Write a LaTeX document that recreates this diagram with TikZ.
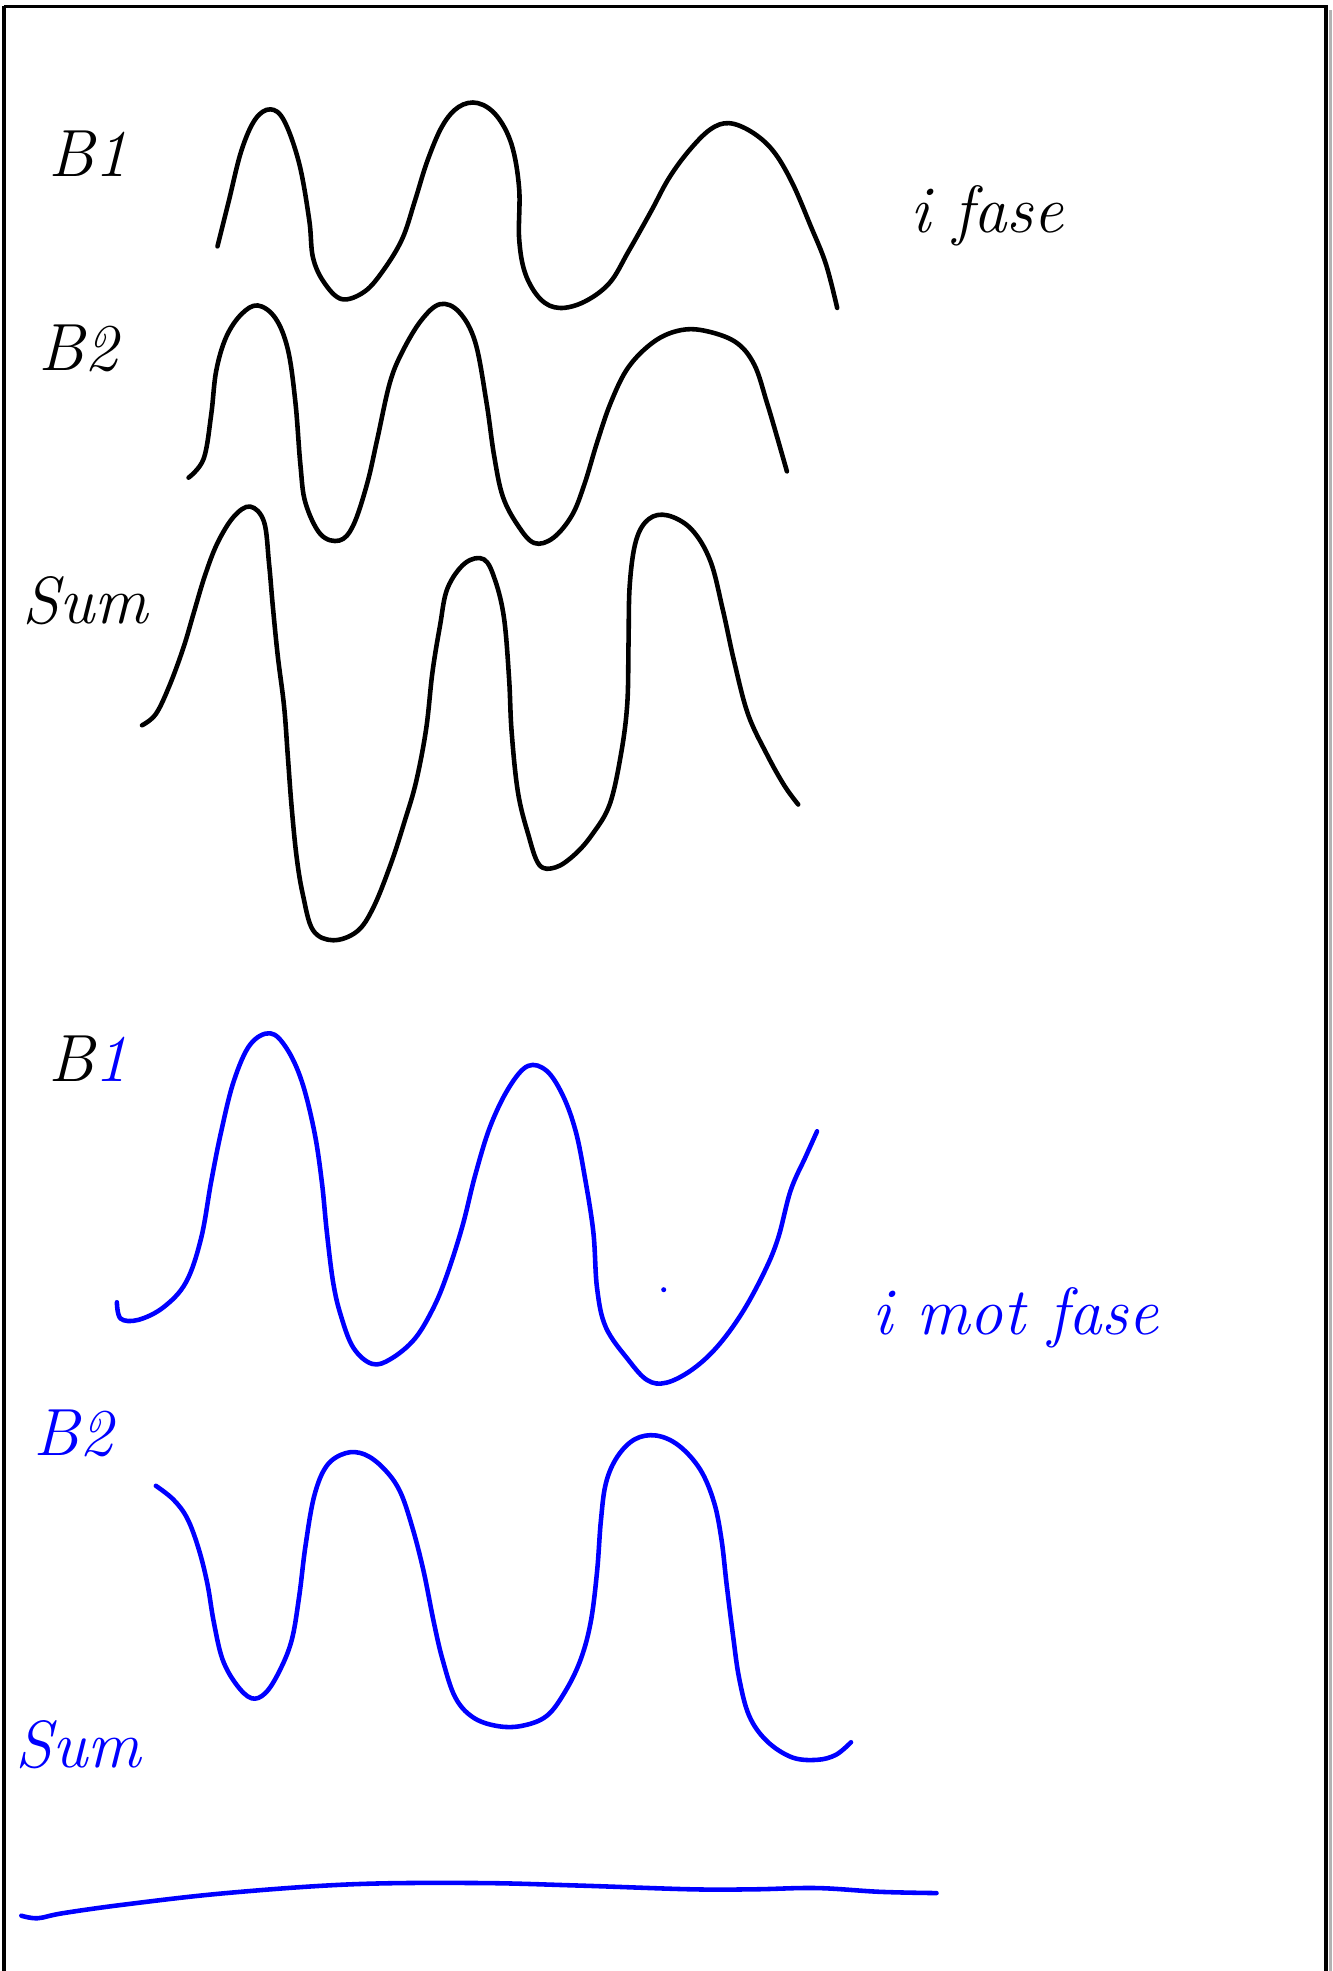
\documentclass[tikz,border=0pt]{standalone}
\usepackage{xcolor}
\usepackage{tikz}
\usetikzlibrary{positioning}

\definecolor{penblue}{RGB}{0,0,255}

\begin{document}
\begin{tikzpicture}[
    x=0.012566cm, y=-0.012566cm,
    wave/.style={line width=1.3pt, line join=round, line cap=round},
    lbl/.style={font=\itshape\fontsize{19}{21}\selectfont, inner sep=0pt},
    frame/.style={draw=black, line width=1pt}
]

\useasboundingbox (0,0) rectangle (1060,1568);

% page frame with shadow
\fill[gray!60] (1057,8) rectangle (1060,1568);
\draw[frame] (3,5) -- (1055,5) -- (1055,1568);
\draw[frame] (3,5) -- (3,1568);

% labels, in fase
\node[lbl] (b1top) at (70,122) {B1};
\node[lbl] (b2top) at (62,277) {B2};
\node[lbl] (sumtop) at (68,478) {Sum};
\node[lbl] (ifase) at (785,172) {i fase};

% labels, i mot fase
\node[lbl] (b1bot) at (70,842) {B\textcolor{penblue}{1}};
\node[lbl, penblue] (b2bot) at (58,1140) {B2};
\node[lbl, penblue] (sumbot) at (62,1388) {Sum};
\node[lbl, penblue] (imotfase) at (808,1048) {i mot fase};

% black waves
\draw[wave] plot[smooth, tension=0.6] coordinates {
  (173,196) (182,160) (192,120) (203,95) (215,87) (226,96) (238,130) (246,175)
  (249,205) (258,225) (272,238) (290,232) (305,215) (320,190) (330,160)
  (340,128) (352,100) (365,85) (380,82) (395,92) (407,115) (413,150)
  (413,190) (418,218) (430,238) (445,245) (465,240) (485,225) (500,200)
  (518,168) (532,142) (548,120) (565,103) (580,98) (598,105) (615,120)
  (630,145) (645,180) (657,210) (666,245)};

\draw[wave] plot[smooth, tension=0.6] coordinates {
  (150,380) (162,365) (168,330) (172,295) (180,268) (192,250) (205,243)
  (219,253) (229,278) (235,320) (239,370) (243,400) (255,425) (270,430)
  (281,418) (292,385) (300,350) (310,305) (320,280) (335,255) (350,242)
  (365,248) (378,272) (387,320) (393,362) (400,395) (412,418) (425,432)
  (440,428) (455,410) (465,385) (475,352) (486,320) (500,292) (520,272)
  (540,263) (560,263) (585,272) (600,290) (610,320) (618,347) (626,375)};

\draw[wave] plot[smooth, tension=0.6] coordinates {
  (113,577) (124,568) (135,545) (146,515) (154,488) (163,458) (173,432)
  (186,411) (199,403) (210,415) (214,448) (217,482) (221,522) (226,562)
  (229,602) (232,642) (236,682) (241,712) (249,740) (265,748) (284,741)
  (297,722) (311,687) (322,653) (331,622) (339,580) (344,535) (350,498)
  (356,468) (370,448) (385,445) (394,462) (401,492) (405,540) (407,582)
  (412,630) (420,663) (429,688) (442,690) (457,680) (471,664) (485,640)
  (494,600) (499,560) (500,512) (501,465) (506,430) (516,413) (531,410)
  (550,421) (565,446) (575,485) (584,526) (595,568) (610,600) (624,625)
  (635,640)};

% blue waves
\draw[wave, penblue] plot[smooth, tension=0.6] coordinates {
  (93,1036) (96,1049) (110,1050) (130,1040) (148,1020) (160,985) (168,940)
  (176,900) (186,860) (199,831) (215,822) (228,834) (240,860) (250,900)
  (256,940) (260,980) (265,1020) (271,1046) (281,1072) (296,1085) (311,1081)
  (330,1065) (345,1040) (356,1013) (368,975) (378,935) (390,896) (405,865)
  (420,848) (435,852) (448,872) (458,900) (465,935) (472,980) (475,1025)
  (482,1056) (500,1082) (515,1098) (530,1100) (550,1090) (570,1072)
  (590,1045) (608,1012) (619,985) (629,947) (641,920) (650,900)};
\fill[penblue] (528,1026) circle (2);

\draw[wave, penblue] plot[smooth, tension=0.6] coordinates {
  (124,1182) (138,1193) (149,1208) (158,1232) (165,1260) (170,1290)
  (177,1320) (188,1340) (200,1351) (211,1347) (222,1330) (232,1305)
  (238,1270) (243,1230) (250,1190) (260,1166) (275,1156) (290,1157)
  (305,1168) (318,1186) (328,1215) (337,1250) (345,1290) (352,1320)
  (362,1350) (376,1366) (395,1373) (415,1373) (435,1365) (450,1345)
  (462,1320) (470,1290) (475,1250) (478,1210) (482,1180) (491,1159)
  (505,1145) (522,1142) (540,1150) (557,1169) (568,1195) (574,1225)
  (578,1260) (583,1300) (588,1335) (596,1365) (610,1385) (630,1398)
  (650,1400) (665,1396) (677,1386)};

\draw[wave, penblue] plot[smooth, tension=0.6] coordinates {
  (17,1524) (30,1526) (50,1522) (100,1515) (180,1506) (280,1499)
  (380,1498) (460,1500) (550,1503) (600,1503) (650,1502) (700,1505)
  (745,1506)};

\end{tikzpicture}
\end{document}
